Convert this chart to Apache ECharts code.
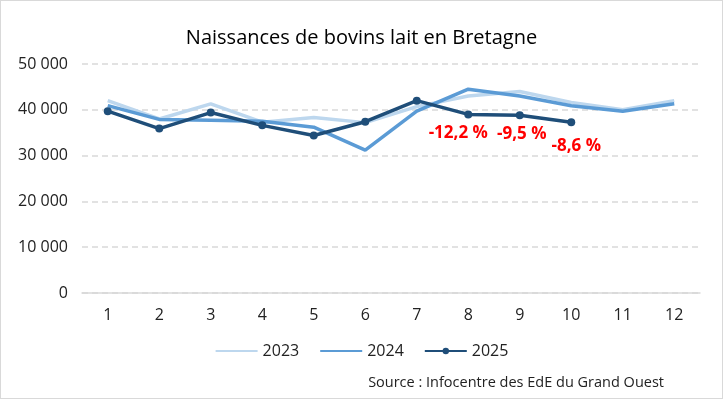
<!DOCTYPE html>
<html><head><meta charset="utf-8">
<script src="https://cdn.jsdelivr.net/npm/echarts@6/dist/echarts.min.js"></script>
<style>html,body{margin:0;padding:0;background:#fff}#c{width:723px;height:399px;box-sizing:border-box;border:1px solid #d9d9d9}</style>
</head><body><div id="c"></div>
<script>
const months = ['1','2','3','4','5','6','7','8','9','10','11','12'];
const s2023 = [42000, 38000, 41300, 37300, 38300, 37200, 40700, 43000, 44000, 41600, 40000, 42000];
const s2024 = [40900, 37900, 37700, 37500, 36200, 31200, 39700, 44500, 43000, 40900, 39700, 41300];
const s2025 = [39700, 35900, 39400, 36600, 34400, 37400, 42000, 39000, 38800, 37300];
const changeLabels = [null, null, null, null, null, null, null, '-12,2 %', '-9,5 %', '-8,6 %'];
const yTicks = [0, 10000, 20000, 30000, 40000, 50000];

const font = 'Open Sans, Liberation Sans, sans-serif';
const labelOffsets = {7: [-10, 1], 8: [2, 1], 9: [5, 6]};
const d2025 = s2025.map((v, i) => {
  if (!changeLabels[i]) return v;
  return {value: v, label: {show: true, formatter: changeLabels[i], position: 'bottom',
    offset: labelOffsets[i], color: '#FF0000', fontWeight: 'bold', fontSize: 17, fontFamily: font}};
});
const chart = echarts.init(document.getElementById('c'));
chart.setOption({
  animation: false,
  title: {text: 'Naissances de bovins lait en Bretagne', left: 'center', top: 22,
    textStyle: {fontFamily: font, fontWeight: 'normal', fontSize: 20, color: '#000'}},
  grid: {left: 81, right: 22, top: 63, bottom: 105},
  legend: {bottom: 34, left: 'center', itemWidth: 42, itemHeight: 8, itemGap: 20,
    textStyle: {fontFamily: font, fontSize: 16, color: '#222'},
    data: [{name: '2023', itemStyle: {opacity: 0}}, {name: '2024', itemStyle: {opacity: 0}}, '2025']},
  graphic: [{type: 'text', right: 58, bottom: 8,
    style: {text: 'Source : Infocentre des EdE du Grand Ouest', fontFamily: font, fontSize: 14.5, fill: '#222'}}],
  xAxis: {type: 'category', data: months, boundaryGap: true,
    axisLine: {lineStyle: {color: '#d9d9d9', width: 1.5}}, axisTick: {show: false},
    axisLabel: {fontFamily: font, fontSize: 16, color: '#222', margin: 14}},
  yAxis: {type: 'value', min: yTicks[0], max: yTicks[yTicks.length - 1], interval: 10000,
    axisLine: {show: false}, axisTick: {show: false},
    splitLine: {lineStyle: {color: '#d9d9d9', type: [6, 4], width: 1.5}},
    axisLabel: {fontFamily: font, fontSize: 16, color: '#222', margin: 14,
      formatter: v => v === 0 ? '0' : String(v).replace(/(\d)(?=(\d{3})$)/, '$1 ')}},
  series: [
    {name: '2023', type: 'line', data: s2023, symbol: 'none', lineStyle: {width: 3.5, color: '#BDD7EE'}, itemStyle: {color: '#BDD7EE'}},
    {name: '2024', type: 'line', data: s2024, symbol: 'none', lineStyle: {width: 3.5, color: '#5B9BD5'}, itemStyle: {color: '#5B9BD5'}},
    {name: '2025', type: 'line', data: d2025, symbol: 'circle', symbolSize: 8, lineStyle: {width: 3.5, color: '#1F4E79'}, itemStyle: {color: '#1F4E79'}}
  ]
});
</script></body></html>
